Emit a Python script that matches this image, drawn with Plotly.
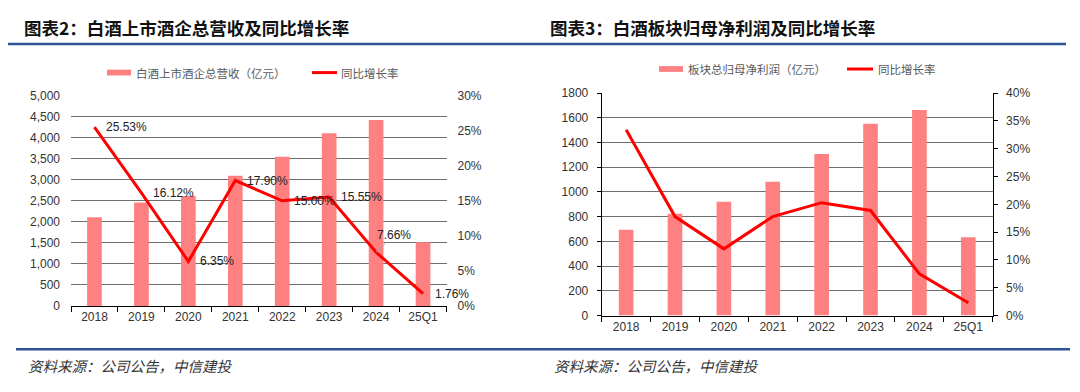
import plotly.graph_objects as go

W, H = 1080, 392

# ---------------- data ----------------
categories = ["2018", "2019", "2020", "2021", "2022", "2023", "2024", "25Q1"]

revenue = [2110, 2461, 2615, 3096, 3548, 4105, 4420, 1514]          # 亿元
revenue_yoy = [0.2553, 0.1612, 0.0635, 0.1790, 0.1500, 0.1555, 0.0766, 0.0176]
revenue_yoy_labels = ["25.53%", "16.12%", "6.35%", "17.90%", "15.00%", "15.55%", "7.66%", "1.76%"]

profit = [694, 824, 920, 1083, 1308, 1552, 1664, 634]                # 亿元
profit_yoy = [0.334, 0.178, 0.120, 0.178, 0.203, 0.189, 0.075, 0.023]

title_left = "图表2：白酒上市酒企总营收及同比增长率"
title_right = "图表3：白酒板块归母净利润及同比增长率"
legend_left_bar = "白酒上市酒企总营收（亿元）"
legend_right_bar = "板块总归母净利润（亿元）"
legend_line = "同比增长率"
source_text = "资料来源：公司公告，中信建投"

# ---------------- style ----------------
BAR = "#FF8080"
LINE = "#FF0000"
GRID = "#6e6e6e"
TXT = "#333333"
BLUE = "#2F5496"
NUM_FONT = "Liberation Sans, Arial, sans-serif"
CJK_FONT = "Noto Sans CJK SC, sans-serif"


def px(x):
    return x / W


def py(y):
    return 1 - y / H


fig = go.Figure()

fig.add_trace(go.Bar(x=categories, y=revenue, width=0.313, marker=dict(color=BAR, line=dict(width=0)),
                     xaxis="x", yaxis="y", showlegend=False))
fig.add_trace(go.Scatter(x=categories, y=revenue_yoy, mode="lines",
                         line=dict(color=LINE, width=3), xaxis="x", yaxis="y2", showlegend=False))
fig.add_trace(go.Bar(x=categories, y=profit, width=0.30, marker=dict(color=BAR, line=dict(width=0)),
                     xaxis="x2", yaxis="y3", showlegend=False))
fig.add_trace(go.Scatter(x=categories, y=profit_yoy, mode="lines",
                         line=dict(color=LINE, width=3), xaxis="x2", yaxis="y4", showlegend=False))

tickfont = dict(family=NUM_FONT, size=12, color=TXT)

fig.update_layout(
    width=W, height=H,
    margin=dict(l=0, r=0, t=0, b=0),
    paper_bgcolor="white", plot_bgcolor="white",
    hovermode=False,
    xaxis=dict(domain=[px(71), px(446.5)], type="category", showgrid=False,
               range=[-0.5, len(categories) - 0.5],
               showline=True, linecolor="black", linewidth=1,
               ticks="outside", tickson="boundaries", ticklen=5, tickcolor="black",
               tickfont=tickfont, anchor="y"),
    yaxis=dict(domain=[py(310), py(92)], range=[0, 5000], dtick=500, tickformat=",",
               showgrid=True, gridcolor=GRID, gridwidth=1, zeroline=False,
               showline=False, ticks="", tickfont=tickfont, ticklabelstandoff=10, anchor="x"),
    yaxis2=dict(overlaying="y", side="right", anchor="x", range=[0, 0.30], dtick=0.05,
                tickformat=".0%", showgrid=False, zeroline=False, showline=False, ticks="",
                tickfont=tickfont, ticklabelstandoff=10),
    xaxis2=dict(domain=[px(601.7), px(992.7)], type="category", showgrid=False,
                range=[-0.5, len(categories) - 0.5],
                showline=True, linecolor="black", linewidth=1,
                ticks="outside", tickson="boundaries", ticklen=5, tickcolor="black",
                tickfont=tickfont, anchor="y3"),
    yaxis3=dict(domain=[py(320), py(89.3)], range=[0, 1800], dtick=200,
                showgrid=True, gridcolor=GRID, gridwidth=1, zeroline=False,
                showline=True, linecolor="black", linewidth=1,
                ticks="outside", ticklen=4, tickcolor="black",
                tickfont=tickfont, ticklabelstandoff=6, anchor="x2"),
    yaxis4=dict(overlaying="y3", side="right", anchor="x2", range=[0, 0.40], dtick=0.05,
                tickformat=".0%", showgrid=False, zeroline=False,
                showline=True, linecolor="black", linewidth=1,
                ticks="outside", ticklen=4, tickcolor="black",
                tickfont=tickfont, ticklabelstandoff=6),
)

annotations = []
shapes = []

# data labels (left chart) — x given as category serial number
label_font = dict(family=NUM_FONT, size=12, color="#222222")
for i, (v, t) in enumerate(zip(revenue_yoy, revenue_yoy_labels)):
    if t == "7.66%":
        annotations.append(dict(x=i, y=v, xref="x", yref="y2", text=t, showarrow=True,
                                arrowhead=0, arrowwidth=1, arrowcolor="#a6a6a6",
                                ax=18, ay=-17, font=label_font, standoff=0))
    else:
        annotations.append(dict(x=i, y=v, xref="x", yref="y2", text=t, showarrow=False,
                                xanchor="left", yanchor="middle", xshift=10, font=label_font))

# titles
for x0, t in [(21.5, title_left), (548, title_right)]:
    annotations.append(dict(x=px(x0), y=py(21), xref="paper", yref="paper", text="<b>" + t + "</b>",
                            showarrow=False, xanchor="left", yanchor="middle",
                            font=dict(family=CJK_FONT, size=17.5, color="#111111")))

# sources
for x0 in [26, 552]:
    annotations.append(dict(x=px(x0), y=py(372), xref="paper", yref="paper", text="<i>" + source_text + "</i>",
                            showarrow=False, xanchor="left", yanchor="middle",
                            font=dict(family=CJK_FONT, size=14.5, color=TXT)))

# manual legends
leg_font = dict(family=CJK_FONT, size=11.5, color="#595959")
for (bx0, bx1, tx, lx0, lx1, ltx, ly, btxt) in [
    (107, 131, 134, 312, 337, 339, 68, legend_left_bar),
    (659, 683, 686, 847, 873, 876, 64.3, legend_right_bar),
]:
    shapes.append(dict(type="rect", xref="paper", yref="paper", x0=px(bx0), x1=px(bx1),
                       y0=py(ly + 3), y1=py(ly - 3), fillcolor=BAR, line=dict(width=0)))
    shapes.append(dict(type="line", xref="paper", yref="paper", x0=px(lx0), x1=px(lx1),
                       y0=py(ly), y1=py(ly), line=dict(color=LINE, width=3)))
    annotations.append(dict(x=px(tx), y=py(ly), xref="paper", yref="paper", text=btxt, showarrow=False,
                            xanchor="left", yanchor="middle", font=leg_font))
    annotations.append(dict(x=px(ltx), y=py(ly), xref="paper", yref="paper", text=legend_line,
                            showarrow=False, xanchor="left", yanchor="middle", font=leg_font))

# header / footer rules
shapes.append(dict(type="line", xref="paper", yref="paper", x0=px(8), x1=px(1066),
                   y0=py(38.3), y1=py(38.3), line=dict(color=BLUE, width=2.5)))
shapes.append(dict(type="line", xref="paper", yref="paper", x0=px(16), x1=px(1070),
                   y0=py(355), y1=py(355), line=dict(color=BLUE, width=2.5)))

fig.update_layout(annotations=annotations, shapes=shapes)

fig.write_html("out.html", config={"displayModeBar": False},
               post_script="document.body.style.margin='0';")
